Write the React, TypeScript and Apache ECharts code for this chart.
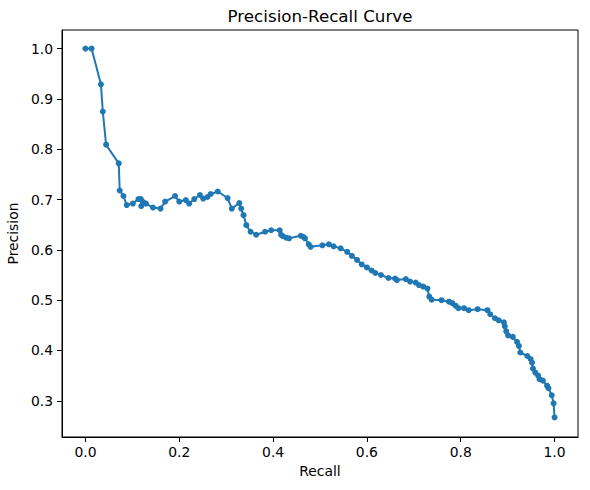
import React, { useEffect, useRef } from "react";
import * as echarts from "echarts";

const recall: number[] = [
  0.0, 0.013, 0.033, 0.037, 0.044, 0.071, 0.073, 0.081, 0.088, 0.101,
  0.113, 0.118, 0.119, 0.123, 0.129, 0.144, 0.16, 0.17, 0.191, 0.2,
  0.214, 0.221, 0.232, 0.244, 0.251, 0.26, 0.267, 0.282, 0.303, 0.312,
  0.328, 0.332, 0.337, 0.343, 0.352, 0.364, 0.383, 0.396, 0.414, 0.417,
  0.421, 0.428, 0.434, 0.459, 0.464, 0.468, 0.476, 0.48, 0.505, 0.519,
  0.529, 0.544, 0.558, 0.568, 0.579, 0.589, 0.6, 0.61, 0.618, 0.63,
  0.646, 0.66, 0.664, 0.683, 0.692, 0.704, 0.711, 0.72, 0.729, 0.733,
  0.738, 0.759, 0.775, 0.782, 0.789, 0.795, 0.807, 0.817, 0.836, 0.857,
  0.863, 0.873, 0.881, 0.892, 0.894, 0.897, 0.901, 0.911, 0.92, 0.924,
  0.927, 0.942, 0.949, 0.952, 0.954, 0.959, 0.965, 0.968, 0.975, 0.984,
  0.987, 0.994, 0.998, 1.0,
];

const precision: number[] = [
  1.0, 1.0, 0.929, 0.875, 0.809, 0.772, 0.718, 0.707, 0.689, 0.692,
  0.701, 0.701, 0.687, 0.695, 0.692, 0.684, 0.682, 0.696, 0.707, 0.696,
  0.699, 0.692, 0.701, 0.709, 0.702, 0.705, 0.711, 0.716, 0.703, 0.682,
  0.693, 0.682, 0.669, 0.649, 0.636, 0.63, 0.636, 0.639, 0.639, 0.63,
  0.627, 0.624, 0.623, 0.628, 0.626, 0.623, 0.611, 0.606, 0.609, 0.611,
  0.607, 0.603, 0.596, 0.588, 0.58, 0.571, 0.565, 0.559, 0.554, 0.55,
  0.544, 0.543, 0.54, 0.542, 0.537, 0.535, 0.53, 0.527, 0.523, 0.507,
  0.501, 0.5, 0.497, 0.494, 0.489, 0.484, 0.484, 0.48, 0.482, 0.48,
  0.472, 0.464, 0.46, 0.456, 0.448, 0.438, 0.43, 0.427, 0.417, 0.409,
  0.396, 0.389, 0.383, 0.376, 0.364, 0.356, 0.35, 0.343, 0.34, 0.33,
  0.325, 0.311, 0.295, 0.267,
];

const xTicks: number[] = [0, 0.2, 0.4, 0.6, 0.8, 1.0];
const yTicks: number[] = [0.3, 0.4, 0.5, 0.6, 0.7, 0.8, 0.9, 1.0];

const FONT = "DejaVu Sans";

export default function App() {
  const ref = useRef<HTMLDivElement>(null);
  useEffect(() => {
    document.body.style.margin = "0";
    const chart = echarts.init(ref.current!, null, { renderer: "svg" });
    const data = recall.map((r, i) => [r, precision[i]]);
    chart.setOption({
      animation: false,
      backgroundColor: "#ffffff",
      graphic: [
        {
          type: "text",
          x: 320,
          y: 16,
          silent: true,
          style: {
            text: "Precision-Recall Curve",
            font: `16.7px "${FONT}"`,
            fill: "#000",
            align: "center",
            verticalAlign: "middle",
          },
        },
      ],
      grid: {
        left: 62,
        right: 12,
        top: 30,
        bottom: 53,
        containLabel: false,
        outerBoundsMode: "none",
        show: true,
        borderColor: "#000",
        borderWidth: 1,
        backgroundColor: "transparent",
      },
      xAxis: {
        type: "value",
        min: -0.05,
        max: 1.05,
        name: "Recall",
        nameLocation: "middle",
        nameGap: 27,
        nameTextStyle: { fontFamily: FONT, fontSize: 13.9, color: "#000" },
        axisLine: { show: true, onZero: false, lineStyle: { color: "#000", width: 1 } },
        axisTick: { show: true, length: 5, inside: false, customValues: xTicks, lineStyle: { color: "#000" } },
        axisLabel: {
          customValues: xTicks,
          margin: 8,
          fontFamily: FONT,
          fontSize: 13.9,
          color: "#000",
          formatter: (v: number) => v.toFixed(1),
        },
        splitLine: { show: false },
      },
      yAxis: {
        type: "value",
        min: 0.228,
        max: 1.037,
        name: "Precision",
        nameLocation: "middle",
        nameGap: 41,
        nameTextStyle: { fontFamily: FONT, fontSize: 13.9, color: "#000" },
        axisLine: { show: true, onZero: false, lineStyle: { color: "#000", width: 1 } },
        axisTick: { show: true, length: 5, inside: false, customValues: yTicks, lineStyle: { color: "#000" } },
        axisLabel: {
          customValues: yTicks,
          margin: 9,
          fontFamily: FONT,
          fontSize: 13.9,
          color: "#000",
          formatter: (v: number) => v.toFixed(1),
        },
        splitLine: { show: false },
      },
      series: [
        {
          type: "line",
          data,
          symbol: "circle",
          symbolSize: 6,
          showSymbol: true,
          lineStyle: { color: "#1f77b4", width: 2 },
          itemStyle: { color: "#1f77b4", borderWidth: 0 },
          emphasis: { disabled: true },
        },
      ],
    });
    return () => chart.dispose();
  }, []);
  return (
    <div
      ref={ref}
      style={{ position: "absolute", left: 0, top: 0, width: 590, height: 490 }}
    />
  );
}
